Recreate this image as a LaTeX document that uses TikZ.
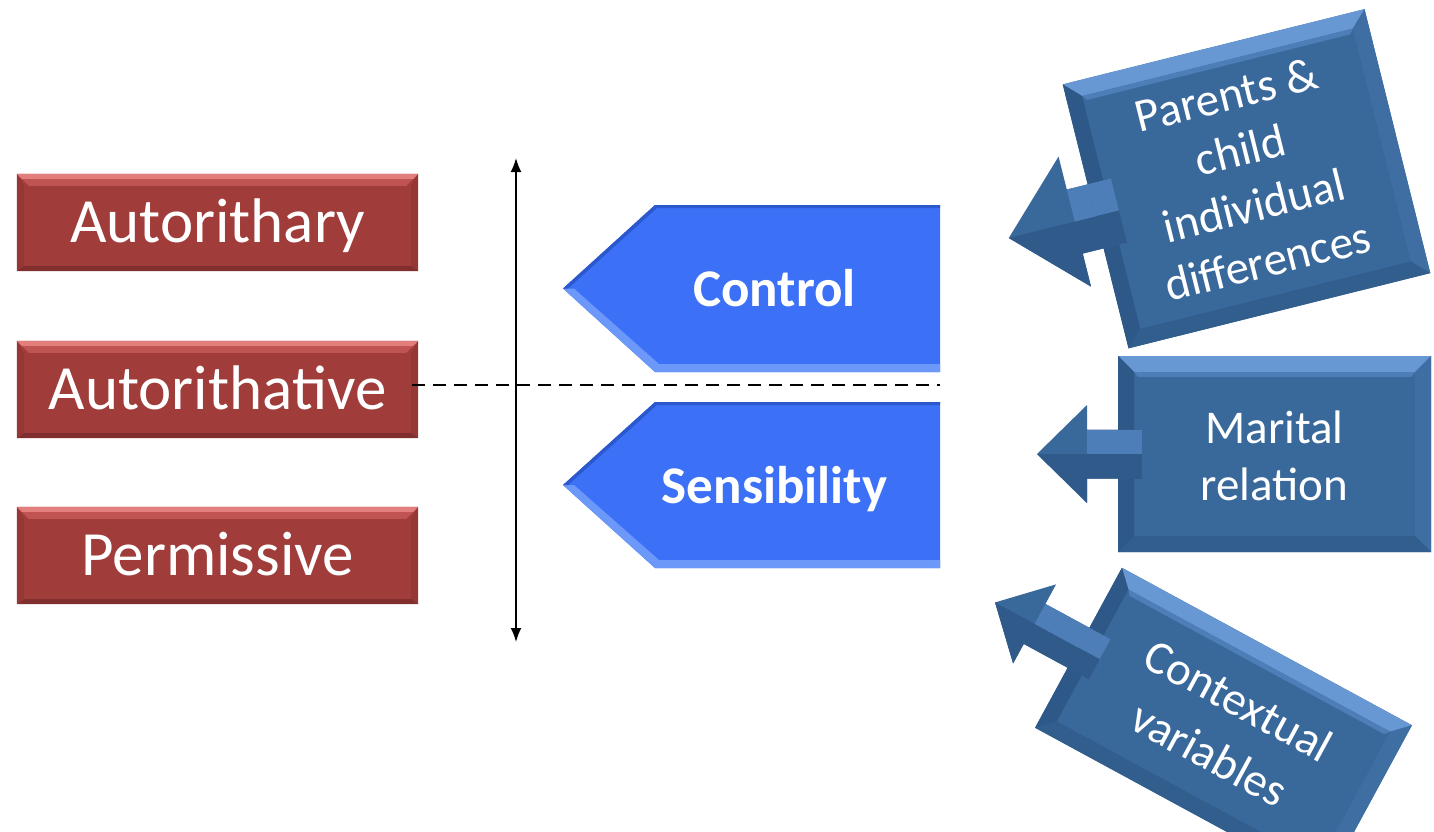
\documentclass[tikz,border=0pt]{standalone}
\usepackage{fontspec}
\setmainfont{Carlito}
\usetikzlibrary{arrows.meta}

\definecolor{redfill}{RGB}{160,60,58}
\definecolor{redtop}{RGB}{226,126,124}
\definecolor{redmid}{RGB}{192,84,82}
\definecolor{redside}{RGB}{148,55,53}
\definecolor{redlow}{RGB}{128,47,46}
\definecolor{ptrfill}{RGB}{60,112,247}
\definecolor{ptrlight}{RGB}{108,152,250}
\definecolor{ptrdark}{RGB}{44,88,205}
\definecolor{callfill}{RGB}{57,104,155}
\definecolor{calltop}{RGB}{104,152,212}
\definecolor{callmid}{RGB}{78,126,184}
\definecolor{callleft}{RGB}{46,88,136}
\definecolor{callside}{RGB}{62,110,162}
\definecolor{calllow}{RGB}{50,94,142}
\definecolor{calldark}{RGB}{47,90,138}

% bevel round a red style box: a light top, darker sides and bottom
\newcommand\redbevel[1]{%
  \fill[redmid] (#1.north west) -- (#1.north east) -- ([shift={(-12,12)}]#1.north east) -- ([shift={(12,12)}]#1.north west) -- cycle;
  \fill[redtop] (#1.north west) -- (#1.north east) -- ([shift={(-5,5)}]#1.north east) -- ([shift={(5,5)}]#1.north west) -- cycle;
  \fill[redside] (#1.north east) -- (#1.south east) -- ([shift={(-7,-5)}]#1.south east) -- ([shift={(-7,12)}]#1.north east) -- cycle;
  \fill[redlow] (#1.south east) -- (#1.south west) -- ([shift={(7,-5)}]#1.south west) -- ([shift={(-7,-5)}]#1.south east) -- cycle;
  \fill[redside] (#1.south west) -- (#1.north west) -- ([shift={(7,12)}]#1.north west) -- ([shift={(7,-5)}]#1.south west) -- cycle;
}

% left-arrow callout in local coordinates centred on the box:
% \cbW,\cbH half sizes of the box, \cbL tip distance, \cbHL head base,
% \cbHH head half height, \cbS shaft half height, \cbB bevel width
\newcommand\calloutbody{%
  \fill[callfill] (-\cbW,-\cbH) -- (\cbW,-\cbH) -- (\cbW,\cbH) -- (-\cbW,\cbH)
    -- (-\cbW,\cbS) -- (-\cbHL,\cbS) -- (-\cbHL,\cbHH) -- (-\cbL,0)
    -- (-\cbHL,-\cbHH) -- (-\cbHL,-\cbS) -- (-\cbW,-\cbS) -- cycle;
  % lower facets of the arrow
  \fill[calldark] (-\cbL,0) -- (-\cbHL,\cbHH) -- (-\cbHL,\cbS) -- (-\cbW,\cbS) -- (-\cbW,0) -- cycle;
  % upper ridge of the shaft
  \fill[callmid] (-\cbHL,-\cbS) -- (-\cbW,-\cbS) -- (-\cbW,0) -- (-\cbHL,0) -- cycle;
  % bevel of the box
  \fill[calltop] (-\cbW,-\cbH) -- (\cbW,-\cbH) -- (\cbW-\cbB,-\cbH+\cbB) -- (-\cbW+\cbB,-\cbH+\cbB) -- cycle;
  \fill[callmid] (-\cbW+\cbB,-\cbH+\cbB) -- (\cbW-\cbB,-\cbH+\cbB) -- (\cbW-\cbB-4,-\cbH+\cbB+5) -- (-\cbW+\cbB+4,-\cbH+\cbB+5) -- cycle;
  \fill[callside] (\cbW,-\cbH) -- (\cbW,\cbH) -- (\cbW-\cbB,\cbH-\cbB) -- (\cbW-\cbB,-\cbH+\cbB) -- cycle;
  \fill[calllow] (\cbW,\cbH) -- (-\cbW,\cbH) -- (-\cbW+\cbB,\cbH-\cbB) -- (\cbW-\cbB,\cbH-\cbB) -- cycle;
  \fill[callleft] (-\cbW,\cbH) -- (-\cbW,\cbS) -- (-\cbW+\cbB,\cbS) -- (-\cbW+\cbB,\cbH-\cbB) -- cycle;
  \fill[callleft] (-\cbW,-\cbH) -- (-\cbW,-\cbS) -- (-\cbW+\cbB,-\cbS) -- (-\cbW+\cbB,-\cbH+\cbB) -- cycle;
  \fill[callmid] (-\cbW,-\cbS) -- (-\cbW+\cbB+8,-\cbS) -- (-\cbW+\cbB+8,0) -- (-\cbW,0) -- cycle;
  \fill[calldark] (-\cbW,0) -- (-\cbW+\cbB+8,0) -- (-\cbW+\cbB+8,\cbS) -- (-\cbW,\cbS) -- cycle;
}

\tikzset{
  stylebox/.style={fill=redfill, minimum width=401pt, minimum height=97pt,
    inner sep=0pt, text=white, text height=40.5pt, text depth=0pt,
    font=\fontsize{63}{70}\selectfont},
  ptrtext/.style={text=white, text height=34pt, text depth=0pt,
    font=\bfseries\fontsize{53}{60}\selectfont},
  calltext/.style={text=white, align=center, inner sep=0pt,
    font=\fontsize{47}{57}\selectfont},
  axisline/.style={line width=1.7pt,
    {Latex[length=14pt,width=11pt]}-{Latex[length=14pt,width=11pt]}},
  divider/.style={line width=1.5pt, dash pattern=on 13pt off 8pt},
}

\begin{document}
\begin{tikzpicture}[x=1pt,y=-1pt]
\useasboundingbox (0,0) rectangle (1434,832);
\fill[white] (0,0) rectangle (1434,832);

% parenting styles
\node[stylebox] (autorithary) at (217.5,222.5) {Autorithary};
\redbevel{autorithary}
\node[stylebox] (autorithative) at (217.5,389.5) {Autorithative};
\redbevel{autorithative}
\node[stylebox] (permissive) at (217.5,555.5) {Permissive};
\redbevel{permissive}

% the two dimensions
\fill[ptrfill] (940,205) -- (655,205) -- (563,288.5) -- (655,372) -- (940,372) -- cycle;
\fill[ptrlight] (563,288.5) -- (655,372) -- (940,372) -- (940,364) -- (659,364) -- (574,288.5) -- cycle;
\fill[ptrdark] (563,288.5) -- (655,205) -- (940,205) -- (940,208) -- (657,208) -- (568,288.5) -- cycle;
\node[ptrtext] (control) at (774.5,289.5) {Control};

\fill[ptrfill] (940,402) -- (655,402) -- (563,485) -- (655,568) -- (940,568) -- cycle;
\fill[ptrlight] (563,485) -- (655,568) -- (940,568) -- (940,560) -- (659,560) -- (574,485) -- cycle;
\fill[ptrdark] (563,485) -- (655,402) -- (940,402) -- (940,405) -- (657,405) -- (568,485) -- cycle;
\node[ptrtext] (sensibility) at (774.5,486) {Sensibility};

% axis and divider
\coordinate (axtop) at (516,158);
\coordinate (axbottom) at (516,642);
\draw[axisline] (axtop) -- (axbottom);
\coordinate (divstart) at (412,385);
\coordinate (divend) at (940,385);
\draw[divider] (divstart) -- (divend);

% influences
\begin{scope}[shift={(1246.5,178.75)},rotate=14]
  \def\cbW{155.5}\def\cbH{136}\def\cbL{245}\def\cbHL{177}\def\cbHH{67}\def\cbS{33}\def\cbB{16}
  \calloutbody
\end{scope}
\node[calltext, rotate=14] (parents) at (1247,178) {Parents \&\\child\\individual\\differences};

\begin{scope}[shift={(1274.5,454)}]
  \def\cbW{156.5}\def\cbH{98}\def\cbL{237.5}\def\cbHL{187.5}\def\cbHH{49}\def\cbS{24.5}\def\cbB{16}
  \calloutbody
\end{scope}
\node[calltext] (marital) at (1274.5,456) {Marital\\relation};

\begin{scope}[shift={(1223.5,726.5)},rotate=-28.5]
  \def\cbW{165}\def\cbH{91}\def\cbL{260}\def\cbHL{215}\def\cbHH{45}\def\cbS{22.75}\def\cbB{16}
  \calloutbody
\end{scope}
\node[calltext, rotate=-28.5, font=\fontsize{47}{61}\selectfont] (contextual) at (1224,727) {Contextual\\variables};
\end{tikzpicture}
\end{document}
